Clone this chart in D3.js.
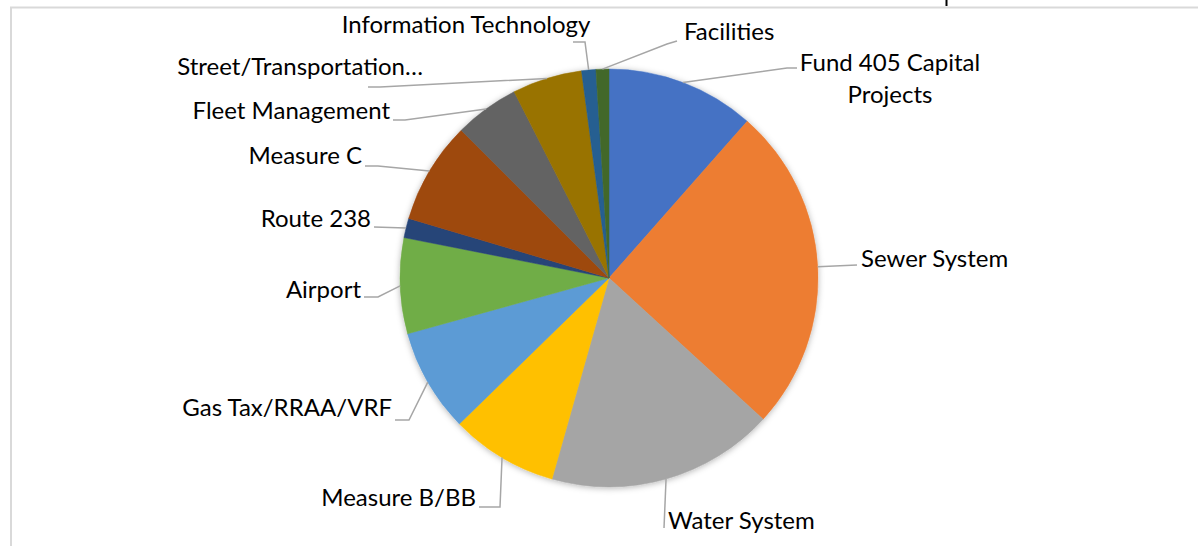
<!DOCTYPE html>
<html>
<head>
<meta charset="utf-8">
<script src="https://cdn.jsdelivr.net/npm/d3@7"></script>
<style>
  body { margin: 0; background: #fff; }
  text { font-family: Lato, "Noto Sans", sans-serif; fill: #000; }
</style>
</head>
<body>
<div id="chart"></div>
<script>
// data (share of total, %)
var categories = ["Fund 405 Capital Projects", "Sewer System", "Water System", "Measure B/BB",
    "Gas Tax/RRAA/VRF", "Airport", "Route 238", "Measure C", "Fleet Management",
    "Street/Transportation…", "Information Technology", "Facilities"];
var values = [11.5, 25.3, 17.6, 8.3, 8.0, 7.4, 1.5, 7.9, 5.0, 5.4, 1.1, 1.0];
var colors = ["#4472C4", "#ED7D31", "#A5A5A5", "#FFC000", "#5B9BD5", "#70AD47",
    "#264478", "#9E480E", "#636363", "#997300", "#255E91", "#43682B"];

// label placement: text x, text centre y, anchor, leader start, elbow
var labelLayout = [
    {x: 890, y: 61, anchor: "middle", lines: ["Fund 405 Capital", "Projects"], from: [797, 68], elbow: [787, 68]},
    {x: 861, y: 257, anchor: "start", from: [857, 265], elbow: [857, 265]},
    {x: 668, y: 519, anchor: "start", from: [664, 528], elbow: [664, 528]},
    {x: 476, y: 496, anchor: "end", from: [479, 507], elbow: [500, 507]},
    {x: 392, y: 406, anchor: "end", from: [395, 420], elbow: [409, 420]},
    {x: 361, y: 288, anchor: "end", from: [364, 297], elbow: [378, 297]},
    {x: 371, y: 217, anchor: "end", from: [374, 227], elbow: [374, 227]},
    {x: 362, y: 154, anchor: "end", from: [365, 166], elbow: [378, 166]},
    {x: 390, y: 109, anchor: "end", from: [393, 120], elbow: [405, 120]},
    {x: 423, y: 65, anchor: "end", from: [368, 87], elbow: [380, 87]},
    {x: 466, y: 23, anchor: "middle", from: [573, 42], elbow: [585, 42]},
    {x: 684, y: 30, anchor: "start", from: [677, 41], elbow: [667, 44]}
];

var width = 1198, height = 546;
var cx = 609, cy = 278, radius = 209;
var fontSize = 24;

var svg = d3.select("#chart").append("svg")
    .attr("width", width)
    .attr("height", height);

// chart area border (cut by the window)
svg.append("rect")
    .attr("x", 11).attr("y", 7.5)
    .attr("width", width).attr("height", height)
    .attr("fill", "none")
    .attr("stroke", "#d9d9d9")
    .attr("stroke-width", 2);

svg.append("line")
    .attr("x1", 946.5).attr("x2", 946.5)
    .attr("y1", 0).attr("y2", 6)
    .attr("stroke", "#000")
    .attr("stroke-width", 2);

var defs = svg.append("defs");
var shadow = defs.append("filter").attr("id", "shadow")
    .attr("x", "-10%").attr("y", "-10%").attr("width", "120%").attr("height", "120%");
shadow.append("feDropShadow")
    .attr("dx", 0).attr("dy", 1)
    .attr("stdDeviation", 3)
    .attr("flood-color", "#000")
    .attr("flood-opacity", 0.3);

var pie = d3.pie().sort(null).value(function (d) { return d; });
var arcs = pie(values);

var arc = d3.arc().innerRadius(0).outerRadius(radius);

var g = svg.append("g")
    .attr("transform", "translate(" + cx + "," + cy + ")");

g.append("g")
    .attr("filter", "url(#shadow)")
    .selectAll("path")
    .data(arcs)
    .enter().append("path")
    .attr("d", arc)
    .attr("fill", function (d, i) { return colors[i]; })
    .attr("stroke", function (d, i) { return colors[i]; })
    .attr("stroke-width", 0.5);

// leader lines go from the label to the slice edge at the mid angle
function edgePoint(d) {
    var a = (d.startAngle + d.endAngle) / 2;
    return [cx + radius * Math.sin(a), cy - radius * Math.cos(a)];
}

svg.append("g").selectAll("polyline")
    .data(arcs)
    .enter().append("polyline")
    .attr("points", function (d, i) {
        var l = labelLayout[i];
        var p = edgePoint(d);
        return [l.from, l.elbow, p].map(function (q) { return q.join(","); }).join(" ");
    })
    .attr("fill", "none")
    .attr("stroke", "#a6a6a6")
    .attr("stroke-width", 1.5);

var labels = svg.append("g").selectAll("text")
    .data(arcs)
    .enter().append("text")
    .attr("x", function (d, i) { return labelLayout[i].x; })
    .attr("y", function (d, i) { return labelLayout[i].y; })
    .attr("text-anchor", function (d, i) { return labelLayout[i].anchor; })
    .attr("dominant-baseline", "central")
    .style("font-size", fontSize + "px");

labels.each(function (d, i) {
    var l = labelLayout[i];
    var t = d3.select(this);
    if (l.lines) {
        l.lines.forEach(function (s, k) {
            t.append("tspan")
                .attr("x", l.x)
                .attr("y", l.y + k * 32)
                .text(s);
        });
    } else {
        t.text(categories[i]);
    }
});
</script>
</body>
</html>
